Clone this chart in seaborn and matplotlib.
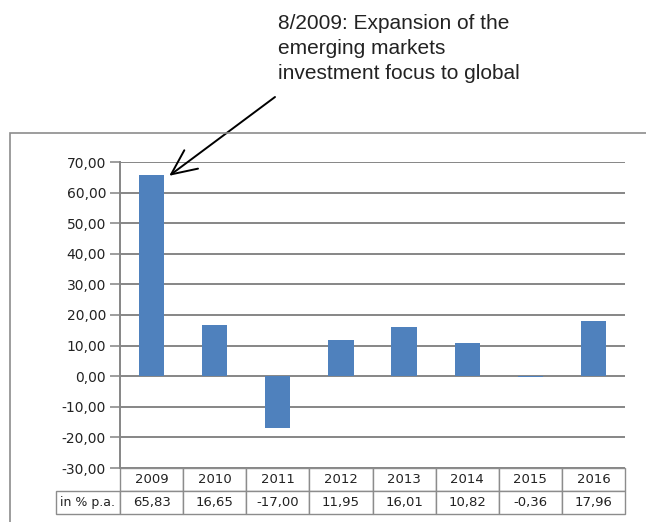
import numpy as np
import pandas as pd
import matplotlib
matplotlib.use('Agg')
import matplotlib.pyplot as plt
import seaborn as sns
from matplotlib.patches import Rectangle
from matplotlib.ticker import FuncFormatter

# data
years = ['2009', '2010', '2011', '2012', '2013', '2014', '2015', '2016']
returns = [65.83, 16.65, -17.00, 11.95, 16.01, 10.82, -0.36, 17.96]
row_label = 'in % p.a.'
note = '8/2009: Expansion of the\nemerging markets\ninvestment focus to global'

sns.set_style('white')
plt.rcParams['font.family'] = ['DejaVu Sans']

W, H = 646, 522
fig = plt.figure(figsize=(W / 100, H / 100), dpi=100)

# outer chart border (Excel-style frame)
fig.patches.append(Rectangle((10 / W, -0.1), 1.2, (H - 133) / H + 0.1, transform=fig.transFigure,
                             fill=False, edgecolor='#8c8c8c', linewidth=1.2))

ax = fig.add_axes([120 / W, 54 / H, 505 / W, 306 / H])

df = pd.DataFrame({'year': years, 'ret': returns})
sns.barplot(data=df, x='year', y='ret', color='#4f81bd', saturation=1, width=0.4,
            linewidth=0, ax=ax)

ax.set_ylim(-30, 70)
ax.set_yticks(np.arange(-30, 71, 10))
ax.yaxis.set_major_formatter(FuncFormatter(lambda v, p: f'{v:.2f}'.replace('.', ',')))
ax.tick_params(axis='y', left=True, length=7, color='#8c8c8c', width=1.2, labelsize=10,
               pad=3, labelcolor='#222222')
ax.set_xticks([])
ax.set_xlabel('')
ax.set_ylabel('')
ax.grid(axis='y', color='#868686', linewidth=1.4)
ax.set_axisbelow(True)
for s in ['top', 'right', 'bottom']:
    ax.spines[s].set_visible(False)
ax.spines['left'].set_color('#868686')
ax.spines['left'].set_linewidth(1.4)

# data table below the axis
lab_w = 64 / 505
tbl = ax.table(cellText=[[row_label] + [f'{v:.2f}'.replace('.', ',') for v in returns]],
               colLabels=[''] + years,
               colWidths=[lab_w] + [1 / len(years)] * len(years),
               cellLoc='center',
               bbox=[-lab_w, -46 / 306, 1 + lab_w, 46 / 306])
tbl.auto_set_font_size(False)
tbl.set_fontsize(9.5)
for cell in tbl.get_celld().values():
    cell.set_edgecolor('#8c8c8c')
    cell.set_linewidth(1.0)
    cell.get_text().set_color('#222222')
tbl[(0, 0)].set_visible(False)
tbl[(1, 0)].get_text().set_fontsize(9)

# annotation
fig.text(278 / W, 1 - 14 / H, note, ha='left', va='top', fontsize=15,
         family='Liberation Sans', color='#222222', linespacing=1.4)
ax.annotate('', xy=(0.28, 65.5), xycoords='data',
            xytext=(275, H - 97), textcoords='figure pixels',
            arrowprops=dict(arrowstyle='->,head_length=1.2,head_width=0.55',
                            color='black', lw=1.4, shrinkA=0, shrinkB=0,
                            mutation_scale=15))

fig.savefig('out.png', dpi=100)
